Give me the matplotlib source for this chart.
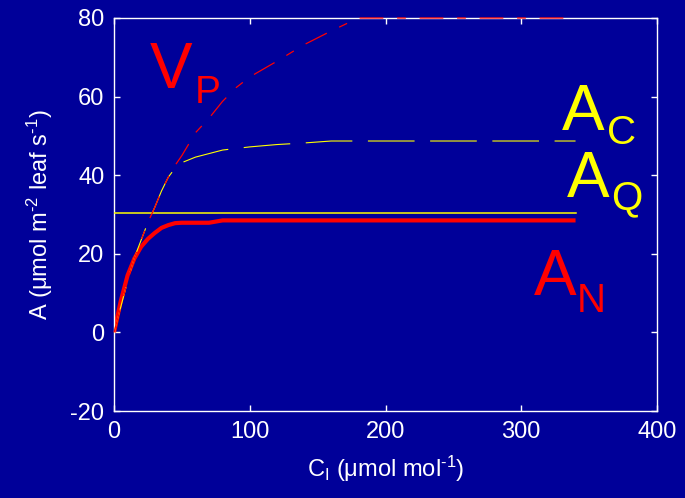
import matplotlib
matplotlib.use("Agg")
import matplotlib.pyplot as plt

# intercellular CO2 (umol/mol)
ci = [0, 5, 10, 15, 20, 25, 30, 35, 40, 45, 50, 60, 70, 80, 90, 100,
      120, 140, 160, 180, 200, 240, 280, 340]

# net assimilation (thick red)
a_n = [0, 8.0, 14.5, 18.8, 21.8, 23.8, 25.3, 26.6, 27.3, 27.8, 27.9, 27.9,
       27.9, 28.5, 28.5, 28.5, 28.5, 28.5, 28.5, 28.5, 28.5, 28.5, 28.5, 28.5]
# enzyme limited rate (yellow dashed)
a_c = [0, 6.5, 13.0, 19.0, 23.5, 28.0, 31.8, 36.0, 39.5, 41.8, 43.2, 44.6,
       45.5, 46.4, 46.8, 47.2, 47.8, 48.2, 48.7, 48.7, 48.7, 48.7, 48.7, 48.7]
# light limited rate (yellow solid)
a_q = [30.5] * len(ci)
# PEP carboxylation (red dashed)
v_p = [0, 6.5, 13.0, 19.0, 23.5, 28.0, 31.8, 36.0, 39.5, 42.5, 45.0, 50.8,
       54.5, 58.8, 62.3, 65.0, 69.0, 73.2, 76.7, 80.0, 80.0, 80.0, 80.0, 80.0]

BG = "#000099"
RED = "#ff0000"
YEL = "#ffff00"

plt.rcParams["font.family"] = ["Liberation Sans", "DejaVu Sans"]
plt.rcParams["mathtext.fontset"] = "custom"
plt.rcParams["mathtext.rm"] = "Liberation Sans"
plt.rcParams["mathtext.it"] = "Liberation Sans"
plt.rcParams["mathtext.default"] = "regular"
plt.rcParams["axes.unicode_minus"] = False

fig = plt.figure(figsize=(6.85, 4.98), dpi=100, facecolor=BG)
ax = fig.add_axes([114 / 685, 1 - 411 / 498, 543 / 685, 393 / 498])
ax.set_facecolor(BG)

ax.plot(ci, a_n, color=RED, lw=3.0, solid_capstyle="butt", zorder=2)
ax.plot(ci, a_q, color=YEL, lw=1.1, zorder=3)
ax.plot(ci, a_c, color=YEL, lw=0.8, dashes=(42, 14), zorder=4)
ax.plot(ci, v_p, color=RED, lw=0.9, dashes=(19, 11, 7, 11), zorder=5,
        clip_on=False)

ax.set_xlim(0, 400)
ax.set_ylim(-20, 80)
ax.set_xticks([0, 100, 200, 300, 400])
ax.set_yticks([-20, 0, 20, 40, 60, 80])

for s in ax.spines.values():
    s.set_color("white")
    s.set_linewidth(1.0)
ax.tick_params(direction="in", length=4, width=1, colors="white",
               labelsize=17, top=True, right=True, pad=7)

ax.set_xlabel("C$_{I}$ (μmol mol$^{\u20101}$)", color="white", fontsize=17,
              labelpad=8)
ax.set_ylabel("A (μmol m$^{\u20102}$ leaf s$^{\u20101}$)", color="white",
              fontsize=17, labelpad=11)


def label(px, py, s, color, size):
    fig.text(px / 685, 1 - py / 498, s, color=color, fontsize=size,
             va="baseline", ha="left")


label(150, 88, "V", RED, 46)
label(195, 103, "P", RED, 28)
label(562, 130, "A", YEL, 46)
label(607, 144, "C", YEL, 29)
label(567, 197, "A", YEL, 46)
label(611, 209, "Q", YEL, 29)
label(534, 295, "A", RED, 46)
label(577, 312, "N", RED, 29)

fig.savefig("out.png", dpi=100, facecolor=BG)
